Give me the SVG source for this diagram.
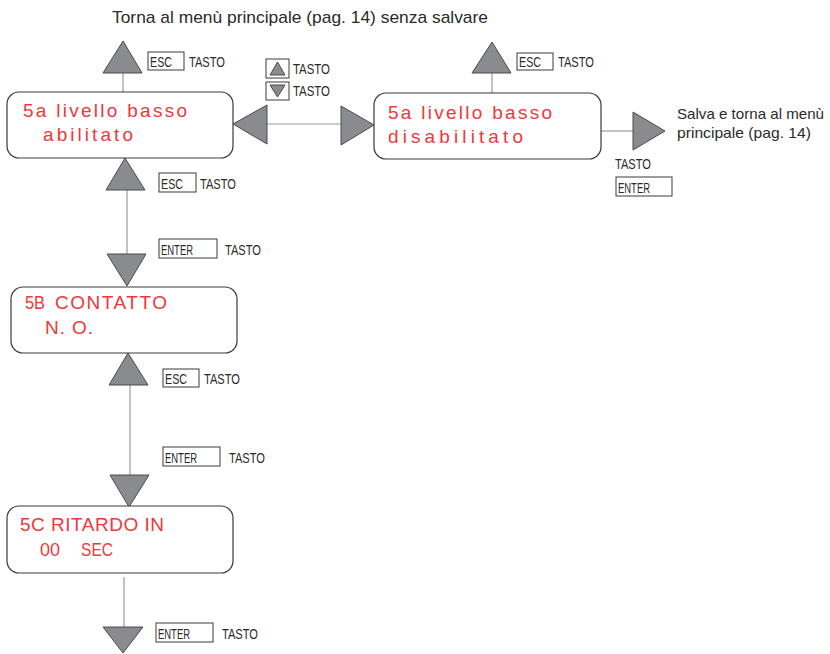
<svg xmlns="http://www.w3.org/2000/svg" width="830" height="654" viewBox="0 0 830 654">
<style>
.node{fill:#fff;stroke:#3a3a3a;stroke-width:1.2}
.tri{fill:#8a8b8e;stroke:#4a4a4a;stroke-width:1}
.line{stroke:#9a9a9a;stroke-width:1.2;fill:none}
.key{fill:#fff;stroke:#3a3a3a;stroke-width:1}
.lbl{font-family:"Liberation Sans",Arial,sans-serif;font-size:15px;fill:#2a2a2a}
.red{font-family:"Liberation Sans",Arial,sans-serif;font-size:19px;fill:#f0383c}
.txt{font-family:"Liberation Sans",Arial,sans-serif;font-size:17px;fill:#2a2a2a}
</style>
<rect width="830" height="654" fill="#fff"/>
<text class="txt" x="112" y="23" textLength="376" lengthAdjust="spacingAndGlyphs">Torna al menù principale (pag. 14) senza salvare</text>

<g id="connectors">
  <line class="line" x1="123" y1="73" x2="123" y2="92"/>
  <line class="line" x1="267" y1="124" x2="341" y2="124"/>
  <line class="line" x1="492" y1="73" x2="492" y2="93"/>
  <line class="line" x1="601" y1="131" x2="633" y2="131"/>
  <line class="line" x1="127" y1="190" x2="127" y2="254"/>
  <line class="line" x1="130" y1="385" x2="130" y2="475"/>
  <line class="line" x1="124" y1="577" x2="124" y2="627"/>
  <polygon class="tri" points="123,41 142,73 103,73"/>
  <polygon class="tri" points="233,124 267,105 267,144"/>
  <polygon class="tri" points="374,125 341,106 341,145"/>
  <polygon class="tri" points="492,42 511,73 472,73"/>
  <polygon class="tri" points="665,131 633,112 633,150"/>
  <polygon class="tri" points="125,158 145,190 106,190"/>
  <polygon class="tri" points="127,286 107,254 146,254"/>
  <polygon class="tri" points="128,353 148,385 109,385"/>
  <polygon class="tri" points="129,507 110,475 149,475"/>
  <polygon class="tri" points="123,653 103,627 143,627"/>
</g>

<g id="labels">
  <rect class="key" x="148" y="52" width="36" height="18"/>
  <text class="lbl" x="150" y="67" textLength="22" lengthAdjust="spacingAndGlyphs">ESC</text>
  <text class="lbl" x="189" y="67" textLength="36" lengthAdjust="spacingAndGlyphs">TASTO</text>

  <rect class="key" x="266" y="59" width="23" height="19"/>
  <polygon class="tri" points="277.5,62 285,75 270,75"/>
  <text class="lbl" x="293" y="74" textLength="37" lengthAdjust="spacingAndGlyphs">TASTO</text>
  <rect class="key" x="266" y="82" width="23" height="18"/>
  <polygon class="tri" points="277.5,97 270,85 285,85"/>
  <text class="lbl" x="293" y="96" textLength="37" lengthAdjust="spacingAndGlyphs">TASTO</text>

  <rect class="key" x="517" y="53" width="36" height="17"/>
  <text class="lbl" x="519" y="67" textLength="22" lengthAdjust="spacingAndGlyphs">ESC</text>
  <text class="lbl" x="558" y="67" textLength="36" lengthAdjust="spacingAndGlyphs">TASTO</text>

  <text class="lbl" x="677" y="119" textLength="147" lengthAdjust="spacingAndGlyphs">Salva e torna al menù</text>
  <text class="lbl" x="677" y="138" textLength="134" lengthAdjust="spacingAndGlyphs">principale (pag. 14)</text>
  <text class="lbl" x="615" y="169" textLength="36" lengthAdjust="spacingAndGlyphs">TASTO</text>
  <rect class="key" x="616" y="177" width="56" height="19"/>
  <text class="lbl" x="618" y="193" textLength="32" lengthAdjust="spacingAndGlyphs">ENTER</text>

  <rect class="key" x="159" y="173" width="37" height="19"/>
  <text class="lbl" x="161" y="189" textLength="22" lengthAdjust="spacingAndGlyphs">ESC</text>
  <text class="lbl" x="200" y="189" textLength="36" lengthAdjust="spacingAndGlyphs">TASTO</text>
  <rect class="key" x="159" y="239" width="58" height="19"/>
  <text class="lbl" x="161" y="255" textLength="32" lengthAdjust="spacingAndGlyphs">ENTER</text>
  <text class="lbl" x="225" y="255" textLength="36" lengthAdjust="spacingAndGlyphs">TASTO</text>

  <rect class="key" x="163" y="369" width="36" height="18"/>
  <text class="lbl" x="165" y="384" textLength="22" lengthAdjust="spacingAndGlyphs">ESC</text>
  <text class="lbl" x="204" y="384" textLength="36" lengthAdjust="spacingAndGlyphs">TASTO</text>
  <rect class="key" x="163" y="447" width="57" height="19"/>
  <text class="lbl" x="165" y="463" textLength="32" lengthAdjust="spacingAndGlyphs">ENTER</text>
  <text class="lbl" x="229" y="463" textLength="36" lengthAdjust="spacingAndGlyphs">TASTO</text>

  <rect class="key" x="156" y="623" width="57" height="19"/>
  <text class="lbl" x="158" y="639" textLength="32" lengthAdjust="spacingAndGlyphs">ENTER</text>
  <text class="lbl" x="222" y="639" textLength="36" lengthAdjust="spacingAndGlyphs">TASTO</text>
</g>

<g id="node-5a-abilitato">
  <rect class="node" x="7" y="92" width="226" height="66" rx="12"/>
  <text class="red" x="23" y="117" textLength="164" lengthAdjust="spacing">5a livello basso</text>
  <text class="red" x="43" y="141" textLength="90" lengthAdjust="spacing">abilitato</text>
</g>
<g id="node-5a-disabilitato">
  <rect class="node" x="374" y="93" width="227" height="66" rx="12"/>
  <text class="red" x="388" y="119" textLength="164" lengthAdjust="spacing">5a livello basso</text>
  <text class="red" x="388" y="143" textLength="135" lengthAdjust="spacing">disabilitato</text>
</g>
<g id="node-5b">
  <rect class="node" x="11" y="287" width="226" height="66" rx="12"/>
  <text class="red" x="25" y="309"><tspan textLength="20" lengthAdjust="spacingAndGlyphs">5B</tspan><tspan x="55" textLength="112" lengthAdjust="spacing">CONTATTO</tspan></text>
  <text class="red" x="45" y="334" textLength="48" lengthAdjust="spacing">N. O.</text>
</g>
<g id="node-5c">
  <rect class="node" x="7" y="506" width="226" height="67" rx="12"/>
  <text class="red" x="20" y="531" textLength="144" lengthAdjust="spacing">5C RITARDO IN</text>
  <text class="red" x="40" y="556"><tspan textLength="20" lengthAdjust="spacingAndGlyphs">00</tspan><tspan x="81" textLength="32" lengthAdjust="spacingAndGlyphs">SEC</tspan></text>
</g>
</svg>
